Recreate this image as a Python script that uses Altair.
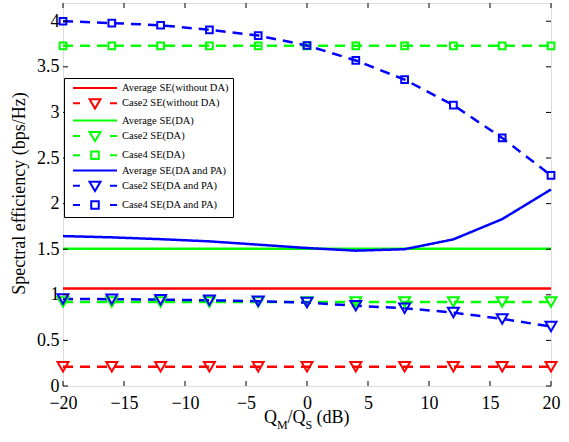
import altair as alt
import pandas as pd

# ---------------- data ----------------
x_db = [-20, -16, -12, -8, -4, 0, 4, 8, 12, 16, 20]

series_names = [
    "Average SE(without DA)",
    "Case2 SE(without DA)",
    "Average SE(DA)",
    "Case2 SE(DA)",
    "Case4 SE(DA)",
    "Average SE(DA and PA)",
    "Case2 SE(DA and PA)",
    "Case4 SE(DA and PA)",
]
series_colors = ["#ff0000", "#ff0000", "#00ff00", "#00ff00", "#00ff00",
                 "#0000ff", "#0000ff", "#0000ff"]
series_dash = ["solid", "dash", "solid", "dash", "dash", "solid", "dash", "dash"]
series_marker = ["none", "tri", "none", "tri", "sq", "none", "tri", "sq"]

avg_wo = [1.07, 1.07, 1.07, 1.07, 1.07, 1.07, 1.07, 1.07, 1.07, 1.07, 1.07]
case2_wo = [0.21, 0.21, 0.21, 0.21, 0.21, 0.21, 0.21, 0.21, 0.21, 0.21, 0.21]
avg_da = [1.505, 1.505, 1.505, 1.505, 1.505, 1.505, 1.505, 1.505, 1.505, 1.505, 1.505]
case2_da = [0.92, 0.92, 0.92, 0.92, 0.92, 0.92, 0.92, 0.92, 0.92, 0.92, 0.92]
case4_da = [3.73, 3.73, 3.73, 3.73, 3.73, 3.73, 3.73, 3.73, 3.73, 3.73, 3.73]
avg_dapa = [1.644, 1.63, 1.61, 1.586, 1.55, 1.513, 1.484, 1.50, 1.608, 1.83, 2.155]
case2_dapa = [0.955, 0.952, 0.947, 0.94, 0.93, 0.915, 0.88, 0.853, 0.805, 0.736, 0.652]
case4_dapa = [4.00, 3.98, 3.956, 3.906, 3.843, 3.734, 3.57, 3.36, 3.08, 2.72, 2.31]

series_values = [avg_wo, case2_wo, avg_da, case2_da, case4_da,
                 avg_dapa, case2_dapa, case4_dapa]

x_ticks = [-20, -15, -10, -5, 0, 5, 10, 15, 20]
y_ticks = [0, 0.5, 1, 1.5, 2, 2.5, 3, 3.5, 4]

# ---------------- build table ----------------
rows = []
for i, (name, vals) in enumerate(zip(series_names, series_values)):
    for xv, yv in zip(x_db, vals):
        rows.append({"x": xv, "y": yv, "series": name, "order": i,
                     "dash": series_dash[i], "marker": series_marker[i]})
df = pd.DataFrame(rows)

W, H = 488, 383
FONT = "Liberation Serif"

xscale = alt.Scale(domain=[-20, 20], nice=False, zero=False)
yscale = alt.Scale(domain=[0, 4.2], nice=False, zero=False)
cscale = alt.Scale(domain=series_names, range=series_colors)

# legend symbol paths (unit = sqrt(size)/2 px = 5 px)
solid_p = "M-4.4,0H4.4"
tri_p = "M-4.4,0H-3.0M3.0,0H4.4M-1.1,-0.8L1.1,-0.8L0,1.05Z"
sq_p = "M-4.4,0H-3.0M3.0,0H4.4M-0.75,-0.75H0.75V0.75H-0.75Z"
path_for = {"none": solid_p, "tri": tri_p, "sq": sq_p}
shape_range = [path_for[m] for m in series_marker]
sscale = alt.Scale(domain=series_names, range=shape_range)

legend = alt.Legend(
    title=None, orient="none", legendX=1, legendY=75,
    fillColor="white", strokeColor="black", padding=4, cornerRadius=0,
    labelFont=FONT, labelFontSize=10.5, labelColor="black",
    labelExpr="datum.label + '\u00a0\u00a0\u00a0'",
    symbolSize=100, symbolStrokeWidth=2, rowPadding=1.3,
    symbolOffset=21, labelOffset=21, symbolFillColor="transparent",
    symbolDash=[], symbolOpacity=1,
)

xaxis = alt.Axis(values=x_ticks, ticks=False, domain=False, grid=False,
                 labelFont=FONT, labelFontSize=18, labelColor="black",
                 labelPadding=8, title=None, labelFlush=False)
yaxis = alt.Axis(values=y_ticks, ticks=False, domain=False, grid=False,
                 format="~g",
                 labelFont=FONT, labelFontSize=18, labelColor="black",
                 labelPadding=4, title="Spectral efficiency (bps/Hz)",
                 titleFont=FONT, titleFontSize=18, titleFontWeight="normal",
                 titleColor="black", titleX=-44, titleY=190,
                 titleBaseline="middle", titleAngle=270)

base = alt.Chart(df)

lines = base.mark_line(strokeWidth=2.5).encode(
    x=alt.X("x:Q", scale=xscale, axis=xaxis),
    y=alt.Y("y:Q", scale=yscale, axis=yaxis),
    color=alt.Color("series:N", scale=cscale, sort=series_names),
    strokeDash=alt.StrokeDash("dash:N", scale=alt.Scale(domain=["solid", "dash"],
                                                        range=[[1, 0], [10, 7]]),
                              legend=None),
    order=alt.Order("x:Q"),
)

tris = base.transform_filter(alt.datum.marker == "tri").mark_point(
    shape="triangle-down", filled=False, size=120, strokeWidth=2, opacity=1
).encode(
    x=alt.X("x:Q", scale=xscale),
    y=alt.Y("y:Q", scale=yscale),
    color=alt.Color("series:N", scale=cscale, sort=series_names),
)

sqs = base.transform_filter(alt.datum.marker == "sq").mark_point(
    shape="square", filled=False, size=45, strokeWidth=2, opacity=1
).encode(
    x=alt.X("x:Q", scale=xscale),
    y=alt.Y("y:Q", scale=yscale),
    color=alt.Color("series:N", scale=cscale, sort=series_names),
)

# empty layer that only carries the legend (colour + custom symbol shapes)
legend_layer = base.transform_filter(alt.datum.x > 1000).mark_point(
    filled=False, size=100, strokeWidth=2, opacity=1
).encode(
    x=alt.X("x:Q", scale=xscale),
    y=alt.Y("y:Q", scale=yscale),
    color=alt.Color("series:N", scale=cscale, sort=series_names, legend=legend),
    shape=alt.Shape("series:N", scale=sscale, sort=series_names, legend=legend),
)

xt = pd.DataFrame({"t": x_ticks})
yt = pd.DataFrame({"t": y_ticks})
tick_bottom = alt.Chart(xt).mark_rule(color="black", strokeWidth=1).encode(
    x=alt.X("t:Q", scale=xscale), y=alt.value(H), y2=alt.value(H - 5))
tick_top = alt.Chart(xt).mark_rule(color="black", strokeWidth=1).encode(
    x=alt.X("t:Q", scale=xscale), y=alt.value(0), y2=alt.value(5))
tick_left = alt.Chart(yt).mark_rule(color="black", strokeWidth=1).encode(
    y=alt.Y("t:Q", scale=yscale), x=alt.value(0), x2=alt.value(5))
tick_right = alt.Chart(yt).mark_rule(color="black", strokeWidth=1).encode(
    y=alt.Y("t:Q", scale=yscale), x=alt.value(W), x2=alt.value(W - 5))

# x-axis title with subscripts
title_df = pd.DataFrame({"a": [0]})
def txt(s, x, y, size):
    return alt.Chart(title_df).mark_text(
        text=s, font=FONT, fontSize=size, align="left", baseline="alphabetic",
        color="black").encode(x=alt.value(x), y=alt.value(y))

tx0 = 201
title_layers = [
    txt("Q", tx0, 420, 18),
    txt("M", tx0 + 13, 426, 12),
    txt("/", tx0 + 23.5, 420, 18),
    txt("Q", tx0 + 28.5, 420, 18),
    txt("S", tx0 + 41.5, 426, 12),
    txt("(dB)", tx0 + 52.5, 420, 18),
]

chart = alt.layer(
    lines, tris, sqs, legend_layer, tick_bottom, tick_top, tick_left, tick_right,
    *title_layers
).properties(
    width=W, height=H,
    autosize=alt.AutoSizeParams(type="none"),
    padding={"left": 63, "top": 3, "right": 18, "bottom": 56},
).configure_view(
    stroke="black", strokeWidth=1
).configure(background="white")

chart.save("out.html", embed_options={"renderer": "svg", "actions": False})
